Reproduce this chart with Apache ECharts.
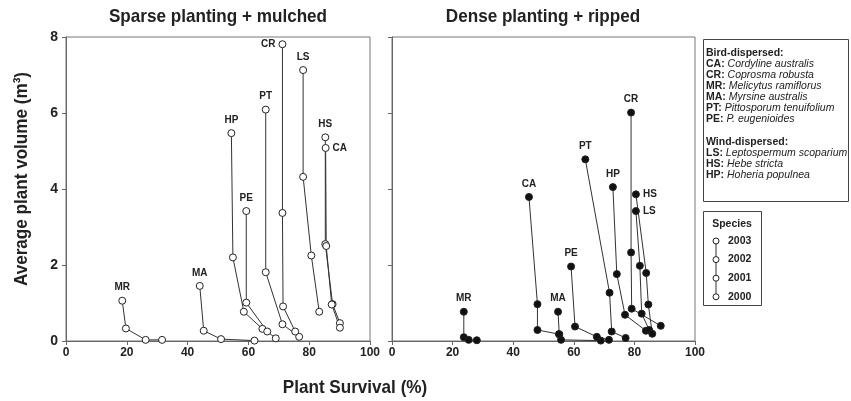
<!DOCTYPE html>
<html lang="en">
<head>
<meta charset="UTF-8">
<title>Plant volume vs survival</title>
<script src="https://cdn.jsdelivr.net/npm/echarts@6/dist/echarts.min.js"></script>
<style>
  html, body { margin: 0; padding: 0; background: #fff; }
  #main { width: 851px; height: 401px; }
</style>
</head>
<body>
<div id="main"></div>
<script>
// species codes and point values [survival %, volume m3], ordered 2003 -> 2000
const speciesCodes = ['MR', 'MA', 'HP', 'PE', 'PT', 'CR', 'LS', 'HS', 'CA'];
const years = ['2003', '2002', '2001', '2000'];

// Sparse planting + mulched
const sparseMR = [[18.5, 1.06], [19.7, 0.33], [26.2, 0.03], [31.6, 0.03]];
const sparseMA = [[44.0, 1.45], [45.3, 0.27], [51.0, 0.05], [62.0, 0.01]];
const sparseHP = [[54.4, 5.47], [54.9, 2.20], [58.5, 0.77], [64.6, 0.32]];
const sparsePE = [[59.3, 3.42], [59.3, 1.01], [66.2, 0.25], [69.0, 0.07]];
const sparsePT = [[65.7, 6.09], [65.7, 1.81], [71.2, 0.44], [76.7, 0.11]];
const sparseCR = [[71.2, 7.81], [71.2, 3.37], [71.4, 0.91], [75.4, 0.25]];
const sparseLS = [[78.0, 7.13], [78.0, 4.32], [80.7, 2.25], [83.3, 0.77]];
const sparseHS = [[85.3, 5.36], [85.3, 2.55], [87.7, 0.97], [90.1, 0.47]];
const sparseCA = [[85.4, 5.08], [85.6, 2.50], [87.4, 0.96], [90.1, 0.35]];

// Dense planting + ripped
const denseMR = [[23.7, 0.77], [23.7, 0.10], [25.3, 0.03], [28.0, 0.02]];
const denseMA = [[54.8, 0.77], [55.2, 0.18], [55.8, 0.03], [68.9, 0.01]];
const denseHP = [[72.9, 4.05], [74.2, 1.76], [76.9, 0.69], [83.8, 0.27]];
const densePE = [[59.1, 1.96], [60.4, 0.38], [67.6, 0.11], [71.6, 0.03]];
const densePT = [[63.8, 4.78], [71.8, 1.27], [72.5, 0.25], [77.1, 0.08]];
const denseCR = [[78.9, 6.01], [78.9, 2.33], [79.1, 0.85], [88.7, 0.40]];
const denseLS = [[80.5, 3.42], [81.8, 1.98], [82.4, 0.72], [84.9, 0.29]];
const denseHS = [[80.5, 3.86], [83.9, 1.79], [84.6, 0.96], [85.9, 0.19]];
const denseCA = [[45.2, 3.79], [48.0, 0.97], [48.0, 0.29], [55.1, 0.18]];

const sparseData = { MR: sparseMR, MA: sparseMA, HP: sparseHP, PE: sparsePE, PT: sparsePT, CR: sparseCR, LS: sparseLS, HS: sparseHS, CA: sparseCA };
const denseData = { MR: denseMR, MA: denseMA, HP: denseHP, PE: densePE, PT: densePT, CR: denseCR, LS: denseLS, HS: denseHS, CA: denseCA };

// legend text
const birdLines = [['CA', 'Cordyline australis'], ['CR', 'Coprosma robusta'], ['MR', 'Melicytus ramiflorus'],
  ['MA', 'Myrsine australis'], ['PT', 'Pittosporum tenuifolium'], ['PE', 'P. eugenioides']];
const windLines = [['LS', 'Leptospermum scoparium'], ['HS', 'Hebe stricta'], ['HP', 'Hoheria populnea']];

// where each species tag sits next to its 2003 point
const sparseLabelPos = { CR: 'left', CA: 'right' };
const denseLabelPos = { HS: 'right', LS: 'right' };

const sans = "'Liberation Sans', Arial, sans-serif";

function makeSeries(code, pts, idx, filled, posMap) {
  const pos = posMap[code] || 'top';
  return {
    type: 'line',
    name: code,
    xAxisIndex: idx,
    yAxisIndex: idx,
    symbol: 'circle',
    symbolSize: 7,
    showAllSymbol: true,
    silent: true,
    animation: false,
    lineStyle: { color: '#333', width: 1 },
    itemStyle: { color: filled ? '#111' : '#fff', borderColor: '#222', borderWidth: 1 },
    label: { show: false, fontFamily: sans, fontWeight: 'bold', fontSize: 10, color: '#222' },
    emphasis: { disabled: true },
    data: pts.map(function (p, i) {
      if (i === 0) {
        return { value: p, label: { show: true, position: pos, distance: pos === 'top' ? 4 : 3, formatter: code } };
      }
      return p;
    })
  };
}

function xAxisFor(idx) {
  return {
    type: 'value', gridIndex: idx, min: 0, max: 100, interval: 20,
    splitLine: { show: false },
    axisLine: { show: true, onZero: false, lineStyle: { color: '#666' } },
    axisTick: { show: true, length: 4, lineStyle: { color: '#666' } },
    axisLabel: { fontFamily: sans, fontWeight: 'bold', fontSize: 12, color: '#222', margin: 6 }
  };
}

function yAxisFor(idx, labels) {
  return {
    type: 'value', gridIndex: idx, min: 0, max: 8, interval: 2,
    splitLine: { show: false },
    axisLine: { show: true, onZero: false, lineStyle: { color: '#666' } },
    axisTick: { show: true, length: 4, lineStyle: { color: '#666' } },
    axisLabel: { show: labels, fontFamily: sans, fontWeight: 'bold', fontSize: 14, color: '#222', margin: 8 }
  };
}

const series = [];
speciesCodes.forEach(function (c) { series.push(makeSeries(c, sparseData[c], 0, false, sparseLabelPos)); });
speciesCodes.forEach(function (c) { series.push(makeSeries(c, denseData[c], 1, true, denseLabelPos)); });

// big bold texts, squeezed a little to look like a narrow face
function bigText(x, y, text, rot) {
  return {
    type: 'text', x: x, y: y, rotation: rot || 0, scaleX: 0.9,
    style: { text: text, fontFamily: sans, fontWeight: 'bold', fontSize: 19, fill: '#222', textAlign: 'center', textVerticalAlign: 'middle' }
  };
}

const graphic = [
  bigText(218, 16.5, 'Sparse planting + mulched'),
  bigText(543, 16.5, 'Dense planting + ripped'),
  bigText(355, 388, 'Plant Survival (%)'),
  bigText(22, 179, 'Average plant volume (m³)', Math.PI / 2),
  { type: 'rect', shape: { x: 703.5, y: 39.5, width: 145, height: 162 }, style: { fill: '#fff', stroke: '#444', lineWidth: 1 } },
  { type: 'rect', shape: { x: 703.5, y: 211.5, width: 58, height: 94 }, style: { fill: '#fff', stroke: '#444', lineWidth: 1 } }
];

const legendRich = {
  b: { fontFamily: sans, fontWeight: 'bold', fontSize: 10.5, fill: '#222' },
  i: { fontFamily: sans, fontStyle: 'italic', fontSize: 10.5, fill: '#222' }
};
function legendLine(y, text) {
  graphic.push({ type: 'text', x: 706, y: y, style: { text: text, rich: legendRich, textVerticalAlign: 'middle', fontSize: 10.5 } });
}
legendLine(53.5, '{b|Bird-dispersed:}');
birdLines.forEach(function (l, i) { legendLine(64.5 + i * 11, '{b|' + l[0] + ':} {i|' + l[1] + '}'); });
legendLine(141.7, '{b|Wind-dispersed:}');
windLines.forEach(function (l, i) { legendLine(152.8 + i * 11.2, '{b|' + l[0] + ':} {i|' + l[1] + '}'); });

graphic.push({ type: 'text', x: 732, y: 224, style: { text: 'Species', fontFamily: sans, fontWeight: 'bold', fontSize: 10.5, fill: '#222', textAlign: 'center', textVerticalAlign: 'middle' } });
graphic.push({ type: 'line', shape: { x1: 716, y1: 241, x2: 716, y2: 297 }, style: { stroke: '#333', lineWidth: 1 } });
years.forEach(function (yr, i) {
  const yy = 241 + i * 18.6;
  graphic.push({ type: 'circle', shape: { cx: 716, cy: yy, r: 3 }, style: { fill: '#fff', stroke: '#222', lineWidth: 1 } });
  graphic.push({ type: 'text', x: 728, y: yy, style: { text: yr, fontFamily: sans, fontWeight: 'bold', fontSize: 10.5, fill: '#222', textVerticalAlign: 'middle' } });
});

const myChart = echarts.init(document.getElementById('main'), null, { renderer: 'canvas' });
const option = {
  backgroundColor: '#fff',
  animation: false,
  grid: [
    { left: 66, top: 37, width: 304, height: 304, show: true, borderColor: '#777', borderWidth: 1 },
    { left: 392, top: 37, width: 303, height: 304, show: true, borderColor: '#777', borderWidth: 1 }
  ],
  xAxis: [xAxisFor(0), xAxisFor(1)],
  yAxis: [yAxisFor(0, true), yAxisFor(1, false)],
  series: series,
  graphic: graphic
};
myChart.setOption(option);
</script>
</body>
</html>
